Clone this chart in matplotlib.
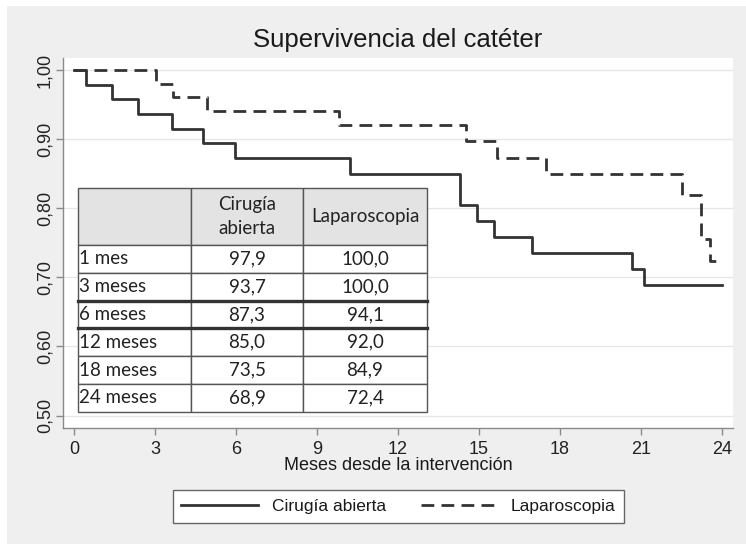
import matplotlib
matplotlib.use("Agg")
import matplotlib.pyplot as plt
from matplotlib.patches import Rectangle
from matplotlib.lines import Line2D

# ---- data ----
solid_t = [0, 0.43, 1.40, 2.36, 3.63, 4.78, 5.96, 10.22, 14.31, 14.94, 15.56, 16.95, 20.66, 21.11, 24.0]
solid_s = [1.0, 0.979, 0.958, 0.937, 0.915, 0.894, 0.873, 0.850, 0.804, 0.781, 0.758, 0.735, 0.712, 0.689, 0.689]
dash_t = [0, 3.03, 3.67, 4.91, 9.81, 14.52, 15.68, 17.48, 22.52, 23.22, 23.57, 24.0]
dash_s = [1.0, 0.980, 0.961, 0.941, 0.920, 0.897, 0.873, 0.849, 0.819, 0.756, 0.723, 0.723]

xticks = [0, 3, 6, 9, 12, 15, 18, 21, 24]
yticks = [0.5, 0.6, 0.7, 0.8, 0.9, 1.0]
ytick_labels = ["0,50", "0,60", "0,70", "0,80", "0,90", "1,00"]

col_labels = ["", "Cirugía\nabierta", "Laparoscopia"]
row_labels = ["1 mes", "3 meses", "6 meses", "12 meses", "18 meses", "24 meses"]
abierta_vals = ["97,9", "93,7", "87,3", "85,0", "73,5", "68,9"]
lapa_vals = ["100,0", "100,0", "94,1", "92,0", "84,9", "72,4"]

series_names = ["Cirugía abierta", "Laparoscopia"]

# ---- figure ----
W, H = 746, 544
fig = plt.figure(figsize=(W / 100, H / 100), dpi=100, facecolor="white")
main_font = ["Liberation Sans Narrow", "Liberation Sans", "DejaVu Sans"]
plt.rcParams["font.family"] = main_font

fig.patches.append(Rectangle((7 / W, 0), 1 - 7 / W, 1 - 6 / H, transform=fig.transFigure,
                             facecolor="#efefef", edgecolor="none", zorder=-10))

ax = fig.add_axes([63 / W, (H - 428) / H, (733 - 63) / W, (428 - 58) / H])
ax.set_zorder(1)
ax.set_facecolor("white")
ax.set_xlim(-0.407, 24.41)
ax.set_ylim(0.482, 1.0174)

line_col = "#333333"
ax.step(solid_t, solid_s, where="post", color=line_col, lw=2.0, label=series_names[0], zorder=3)
ax.step(dash_t, dash_s, where="post", color=line_col, lw=2.0, linestyle=(0, (4.6, 2.6)),
        label=series_names[1], zorder=3)

ax.set_yticks(yticks)
ax.set_yticklabels(ytick_labels, rotation=90, va="center")
ax.set_xticks(xticks)
ax.grid(axis="y", color="#e6e6e6", lw=0.9)
ax.grid(axis="x", visible=False)
ax.set_axisbelow(True)
for s in ["top", "right"]:
    ax.spines[s].set_visible(False)
for s in ["left", "bottom"]:
    ax.spines[s].set_color("#8a8a8a")
    ax.spines[s].set_linewidth(1.0)
ax.tick_params(axis="both", colors="#8a8a8a", length=5, width=1.0, labelsize=13,
               labelcolor="#222222")
ax.tick_params(axis="y", pad=2)
ax.tick_params(axis="x", pad=4)

ax.set_title("Supervivencia del catéter", fontsize=18.5, color="#1a1a1a", pad=8)
ax.set_xlabel("Meses desde la intervención", fontsize=13, color="#1a1a1a", labelpad=0)

# ---- table ----
cell_text = [[r, a, l] for r, a, l in zip(row_labels, abierta_vals, lapa_vals)]
tab = ax.table(cellText=cell_text, colLabels=col_labels,
               bbox=[(78 - 63) / 670, (428 - 411.7) / 370, (427 - 78) / 670, (411.7 - 188.3) / 370],
               zorder=5)
tab.auto_set_font_size(False)
col_w = [113, 112, 124]
header_h = 56.7
row_h = 27.8
for (r, c), cell in tab.get_celld().items():
    cell.set_width(col_w[c])
    cell.set_height(header_h if r == 0 else row_h)
    cell.set_edgecolor("#555555")
    cell.set_linewidth(1.0)
    txt = cell.get_text()
    txt.set_fontfamily(["Lato", "DejaVu Sans"])
    txt.set_fontsize(13.5)
    txt.set_color("#222222")
    if r == 0:
        cell.set_facecolor("#e3e3e3")
        txt.set_linespacing(1.45)
    else:
        cell.set_facecolor("white")
    if c == 0 and r > 0:
        cell.set_text_props(ha="left")
        cell.PAD = 0.008
    else:
        cell.set_text_props(ha="center")

# thick separator lines under "3 meses" and "6 meses"
tb_x0 = (78 - 63) / 670
tb_x1 = (427 - 63) / 670
tb_y0 = (428 - 411.7) / 370
tb_h = (411.7 - 188.3) / 370
total_h = header_h + row_h * len(row_labels)
for k in (2, 3):
    yy = tb_y0 + tb_h * (row_h * (len(row_labels) - k)) / total_h
    ax.add_line(Line2D([tb_x0, tb_x1], [yy, yy], transform=ax.transAxes, color="#333333",
                       lw=2.4, zorder=6))

# ---- legend ----
leg = fig.legend(handles=ax.get_lines()[:2], labels=series_names, loc="center",
                 bbox_to_anchor=(398.5 / W, 1 - 506.5 / H), ncol=2, frameon=True, fancybox=False,
                 fontsize=12.5, handlelength=4.4, columnspacing=2.0, handletextpad=0.8,
                 borderpad=0.5, edgecolor="#666666", framealpha=1)
leg.get_frame().set_linewidth(1.0)
for t in leg.get_texts():
    t.set_color("#1a1a1a")

fig.savefig("out.png", dpi=100, facecolor=fig.get_facecolor())
